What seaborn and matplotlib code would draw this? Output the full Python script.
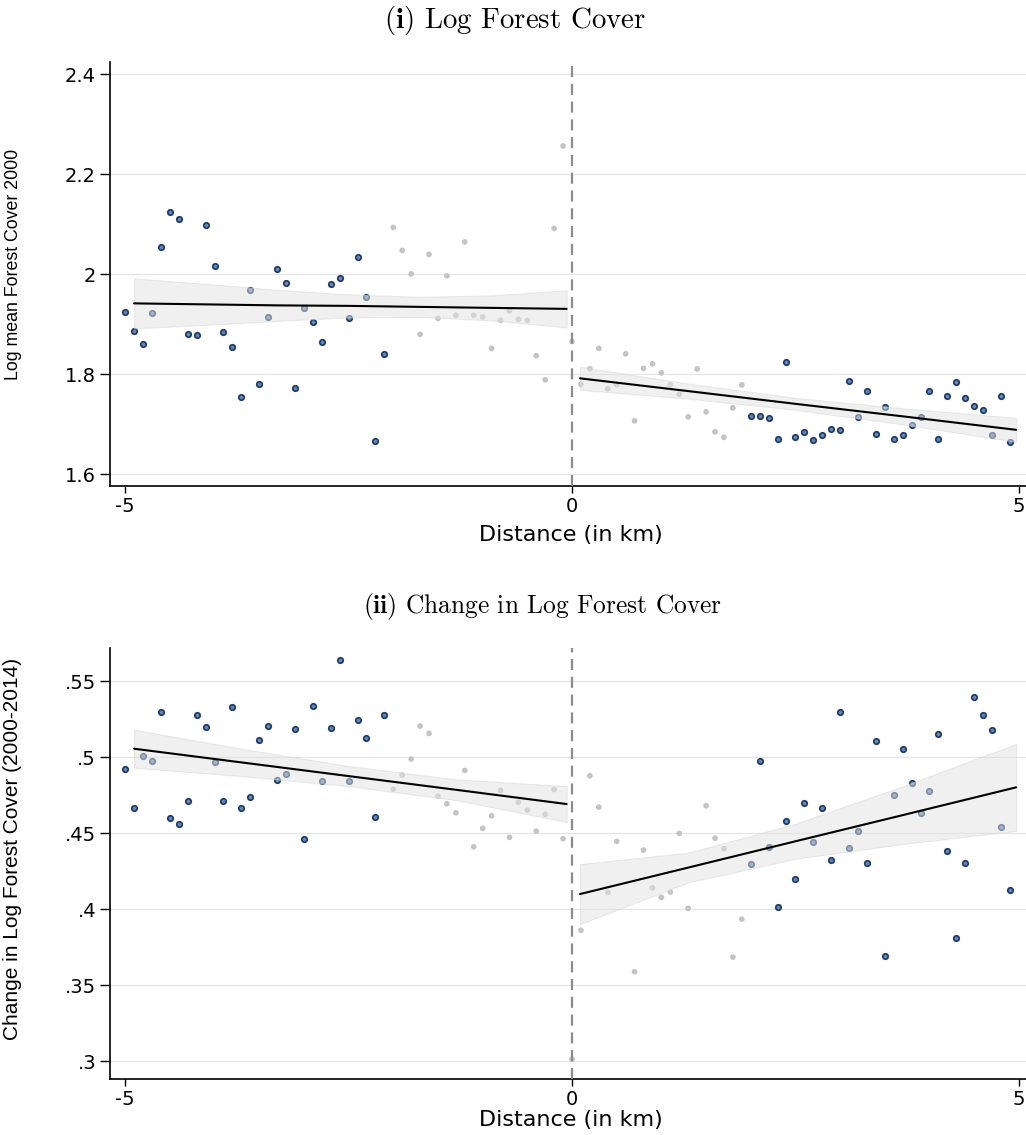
import numpy as np
import pandas as pd
import matplotlib
matplotlib.use("Agg")
import matplotlib.pyplot as plt
import seaborn as sns
from matplotlib import font_manager

# distance bins (km), 0.1 km wide, left edge -5.0 to 4.9
bins = np.arange(-50, 50)
dist = bins / 10
near = (bins >= -20) & (bins < 20)

forest_2000 = [
    1.924, 1.886, 1.860, 1.923, 2.054, 2.125, 2.111, 1.880, 1.878, 2.098,
    2.017, 1.885, 1.854, 1.754, 1.969, 1.780, 1.914, 2.011, 1.983, 1.772,
    1.932, 1.904, 1.865, 1.980, 1.993, 1.913, 2.035, 1.955, 1.667, 1.840,
    2.094, 2.048, 2.001, 1.880, 2.040, 1.912, 1.997, 1.918, 2.065, 1.918,
    1.915, 1.852, 1.908, 1.927, 1.910, 1.908, 1.837, 1.789, 2.092, 2.257,
    1.866, 1.780, 1.811, 1.852, 1.771, 1.780, 1.841, 1.707, 1.812, 1.821,
    1.803, 1.779, 1.760, 1.715, 1.811, 1.725, 1.685, 1.674, 1.733, 1.779,
    1.716, 1.717, 1.713, 1.670, 1.825, 1.675, 1.685, 1.668, 1.679, 1.690,
    1.688, 1.786, 1.714, 1.767, 1.681, 1.734, 1.671, 1.679, 1.698, 1.714,
    1.767, 1.671, 1.756, 1.785, 1.752, 1.737, 1.729, 1.678, 1.756, 1.665,
]

forest_change = [
    .4923, .4662, .5009, .4976, .5296, .4601, .4561, .4713, .5278, .5199,
    .4969, .4711, .5329, .4662, .4735, .5114, .5204, .4851, .4888, .5184,
    .4458, .5338, .4844, .5191, .5637, .4844, .5243, .5123, .4603, .5276,
    .4789, .4882, .4987, .5204, .5156, .4743, .4693, .4634, .4912, .4410,
    .4531, .4614, .4781, .4472, .4702, .4651, .4513, .4623, .4787, .4463,
    .3013, .3860, .4877, .4671, .4110, .4445, np.nan, .3588, .4388, .4140,
    .4077, .4112, .4498, .4005, np.nan, .4680, .4467, .4397, .3684, .3934,
    .4298, .4974, .4410, .4013, .4577, .4195, .4699, .4441, .4664, .4320,
    .5296, .4401, .4513, .4303, .5105, .3691, .4750, .5055, .4831, .4634,
    .4774, .5153, .4382, .3809, .4303, .5393, .5278, .5178, .4541, .4127,
]

# fitted lines and 95% CI half-widths
fit1_left_x = [-4.9, -4.1, -3.3, -2.5, -1.7, -0.9, -0.06]
fit1_left_y = [1.942, 1.940, 1.938, 1.937, 1.935, 1.933, 1.931]
fit1_left_ci = [.050, .041, .031, .023, .020, .025, .037]
fit1_right_x = [0.09, 1.3, 2.5, 3.7, 4.97]
fit1_right_y = [1.792, 1.7665, 1.741, 1.716, 1.689]
fit1_right_ci = [.023, .015, .012, .016, .024]

fit2_left_x = [-4.9, -3.7, -2.5, -1.3, -0.06]
fit2_left_y = [.5055, .4965, .4875, .4785, .4691]
fit2_left_ci = [.0125, .009, .0066, .0068, .0118]
fit2_right_x = [0.09, 1.3, 2.5, 3.7, 4.97]
fit2_right_y = [.4099, .4273, .4446, .4618, .4801]
fit2_right_ci = [.0197, .0098, .0115, .019, .0286]

x_ticks = [-5, 0, 5]
x_ticklabels = ["-5", "0", "5"]
y1_ticks = [1.6, 1.8, 2.0, 2.2, 2.4]
y1_ticklabels = ["1.6", "1.8", "2", "2.2", "2.4"]
y2_ticks = [.3, .35, .4, .45, .5, .55]
y2_ticklabels = [".3", ".35", ".4", ".45", ".5", ".55"]

sns.set_style("white")
plt.rcParams["font.family"] = ["DejaVu Sans"]
plt.rcParams["mathtext.fontset"] = "cm"
for key in ["text.color", "axes.labelcolor", "xtick.color", "ytick.color"]:
    plt.rcParams[key] = "black"

names = {f.name for f in font_manager.fontManager.ttflist}
if "Liberation Sans Narrow" in names:
    ylab_font, ylab_scale = "Liberation Sans Narrow", 1.22
else:
    ylab_font, ylab_scale = "Liberation Sans", 1.0

NAVY = "#1f3d6b"
NAVY_FILL = "#7088ad"
GRAY = "#c4c4c4"


def draw_panel(ax, values, fits, ylim, yticks, yticklabels, ylabel, ylab_size, ylab_y, xlab_y):
    df = pd.DataFrame({"dist": dist, "value": values, "near": near})
    for y in yticks:
        ax.axhline(y, color="#e6e6e6", lw=0.9, zorder=0)
    sns.scatterplot(data=df[~df["near"]], x="dist", y="value", ax=ax, s=15,
                    color=NAVY_FILL, edgecolor=NAVY, linewidth=1.3, zorder=2, legend=False)
    sns.scatterplot(data=df[df["near"]], x="dist", y="value", ax=ax, s=17,
                    color=GRAY, edgecolor="none", linewidth=0, zorder=2, legend=False)
    for fx, fy, ci in fits:
        fx, fy, ci = np.array(fx), np.array(fy), np.array(ci)
        ax.fill_between(fx, fy - ci, fy + ci, facecolor="#e2e2e2", alpha=0.5,
                        edgecolor="#d8d8d8", linewidth=0.8, zorder=3)
        sns.lineplot(x=fx, y=fy, ax=ax, color="black", lw=1.5, zorder=4)
    ax.axvline(0, color="#8c8c8c", lw=1.6, ls=(0, (5, 3)), zorder=5)

    ax.set_xlim(-5.17, 5.08)
    ax.set_ylim(*ylim)
    ax.set_xticks(x_ticks)
    ax.set_xticklabels(x_ticklabels)
    ax.set_yticks(yticks)
    ax.set_yticklabels(yticklabels)
    ax.tick_params(axis="y", length=7, width=1, direction="out", labelsize=14, pad=3,
                   left=True, colors="black")
    ax.tick_params(axis="x", length=5, width=1, direction="out", labelsize=14, pad=3,
                   bottom=True, colors="black")
    for side in ["top", "right"]:
        ax.spines[side].set_visible(False)
    for side in ["left", "bottom"]:
        ax.spines[side].set_color("black")
        ax.spines[side].set_linewidth(1.2)
    ax.set_xlabel("Distance (in km)", fontsize=16, color="black")
    ax.xaxis.set_label_coords(0.503, xlab_y)
    ax.set_ylabel(ylabel, fontsize=ylab_size * ylab_scale, family=ylab_font, color="black")
    ax.yaxis.set_label_coords(-0.096, ylab_y)


fig = plt.figure(figsize=(10.26, 11.35), dpi=100)
ax1 = fig.add_axes([0.1072, 0.5718, 0.8928, 0.3736])
ax2 = fig.add_axes([0.1072, 0.0493, 0.8928, 0.3797])

draw_panel(ax1, forest_2000,
           [(fit1_left_x, fit1_left_y, fit1_left_ci), (fit1_right_x, fit1_right_y, fit1_right_ci)],
           (1.5766, 2.425), y1_ticks, y1_ticklabels, "Log mean Forest Cover 2000", 12.8, 0.523, -0.092)
draw_panel(ax2, forest_change,
           [(fit2_left_x, fit2_left_y, fit2_left_ci), (fit2_right_x, fit2_right_y, fit2_right_ci)],
           (0.2882, 0.5717), y2_ticks, y2_ticklabels, "Change in Log Forest Cover (2000-2014)", 15.0, 0.534, -0.072)

fig.text(0.502, 0.9815, r"$\mathbf{(i)}$ Log Forest Cover", family="cmr10",
         fontsize=20.8, ha="center", va="center")
fig.text(0.529, 0.4652, r"$\mathbf{(ii)}$ Change in Log Forest Cover", family="cmr10",
         fontsize=18.3, ha="center", va="center")

fig.savefig("out.png", dpi=100)
